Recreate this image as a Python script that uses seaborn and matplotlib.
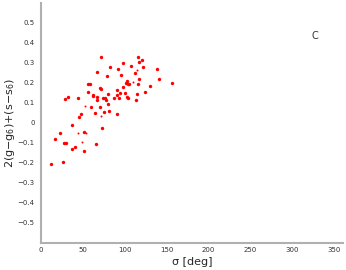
import numpy as np
import pandas as pd
import matplotlib
matplotlib.use('Agg')
import matplotlib.pyplot as plt
import seaborn as sns

# sigma [deg] and 2(g-g6)+(s-s6)
sigma = [11.9, 17.0, 23.0, 26.6, 27.8, 30.5, 28.6, 32.5, 36.9, 37.7, 41.3, 44.0,
         45.6, 47.6, 51.2, 51.2, 56.0, 58.7, 56.3, 59.9, 61.9, 62.7, 64.7, 66.3,
         66.7, 67.1, 67.5, 70.6, 71.0, 71.4, 71.8, 73.4, 74.6, 75.8, 76.6, 78.2,
         78.6, 80.2, 80.6, 81.4, 82.9, 86.9, 90.5, 90.9, 91.3, 91.7, 93.3, 94.8,
         96.0, 97.6, 98.0, 100.0, 101.2, 102.8, 103.2, 103.6, 104.0, 105.2, 108.0,
         112.3, 113.5, 115.1, 115.5, 116.3, 116.7, 117.0, 120.2, 122.2, 124.6,
         130.6, 138.1, 140.5, 156.8]
combo = [-0.203, -0.082, -0.052, -0.194, -0.102, -0.102, 0.119, 0.132, -0.009, -0.129,
         -0.119, 0.127, 0.032, 0.047, -0.047, -0.141, 0.193, 0.197, 0.156, 0.079,
         0.142, 0.136, 0.052, -0.107, 0.132, 0.116, 0.253, 0.177, 0.079, 0.169,
         0.328, -0.027, 0.127, 0.055, 0.124, 0.117, 0.233, 0.144, 0.095, 0.059,
         0.281, 0.124, 0.167, 0.141, 0.045, 0.268, 0.124, 0.149, 0.238, 0.181,
         0.300, 0.149, 0.199, 0.208, 0.131, 0.194, 0.124, 0.194, 0.285, 0.249,
         0.117, 0.147, 0.193, 0.328, 0.305, 0.219, 0.317, 0.278, 0.156, 0.186,
         0.271, 0.219, 0.199]

# a few tiny points
sigma_small = [44.4, 54.4, 49.2, 53.2, 72.2, 109.5, 114.6]
combo_small = [-0.049, -0.050, -0.094, 0.085, 0.035, 0.203, 0.266]

yticks = [-0.5, -0.4, -0.3, -0.2, -0.1, 0, 0.1, 0.2, 0.3, 0.4, 0.5]
ytick_labels = ['−0.5', '−0.4', '−0.3', '−0.2', '−0.1', '0',
                '0.1', '0.2', '0.3', '0.4', '0.5']
xticks = [0, 50, 100, 150, 200, 250, 300, 350]

df = pd.DataFrame({'sigma': sigma, 'combo': combo})
df_small = pd.DataFrame({'sigma': sigma_small, 'combo': combo_small})

sns.set_style('white')
fig = plt.figure(figsize=(3.46, 2.70), dpi=100)
ax = fig.add_axes([0.118, 0.10, 0.873, 0.889])

sns.scatterplot(data=df, x='sigma', y='combo', ax=ax, color='#ff0000',
                s=6, linewidth=0, marker='o')
sns.scatterplot(data=df_small, x='sigma', y='combo', ax=ax, color='#ff0000',
                s=2, linewidth=0, marker='o')

ax.set_xlim(0, 360)
ax.set_ylim(-0.6, 0.6)
ax.set_xticks(xticks)
ax.set_xticklabels([str(v) for v in xticks])
ax.set_yticks(yticks)
ax.set_yticklabels(ytick_labels)

for side in ['top', 'right']:
    ax.spines[side].set_visible(False)
for side in ['left', 'bottom']:
    ax.spines[side].set_color('#b0b0b0')
    ax.spines[side].set_linewidth(1.5)

ax.tick_params(axis='x', direction='in', length=2.5, width=0.6, color='#555555',
               labelsize=5, labelcolor='#333333', pad=3)
ax.tick_params(axis='y', direction='out', length=2.5, width=0.6, color='#555555',
               labelsize=5, labelcolor='#333333', pad=2)

ax.set_xlabel('σ [deg]', fontsize=8, labelpad=3)
ax.set_ylabel('2(g−g$_6$)+(s−s$_6$)', fontsize=8)
ax.yaxis.set_label_coords(-0.078, 0.5)
ax.text(0.895, 0.85, 'C', transform=ax.transAxes, fontsize=7, color='#333333')

fig.savefig('out.png', dpi=100)
